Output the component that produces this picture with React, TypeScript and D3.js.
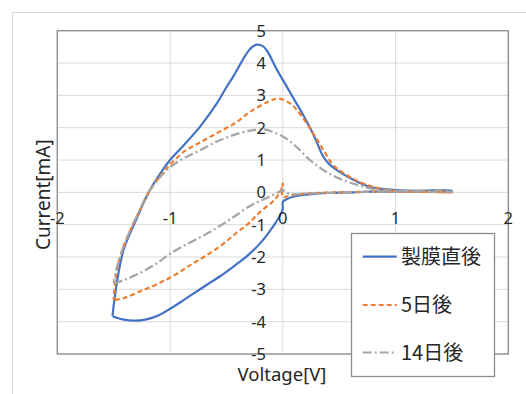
import React from "react";
import * as d3 from "d3";

const xTicks = [-2, -1, 0, 1, 2];
const yTicks = [-5, -4, -3, -2, -1, 0, 1, 2, 3, 4, 5];

const seriesNames = ["製膜直後", "5日後", "14日後"];

const blueV = [-1.51, -1.42, -1.31, -1.2, -1.1, -1.0, -0.9, -0.8, -0.7, -0.55, -0.41, -0.3, -0.2, -0.12, -0.06, -0.01, 0.0, 0.0, 0.03, 0.1, 0.24, 0.4, 0.6, 0.8, 1.1, 1.5, 1.5, 1.2, 1.0, 0.9, 0.77, 0.63, 0.48, 0.41, 0.36, 0.27, 0.18, 0.12, 0.035, -0.05, -0.14, -0.18, -0.23, -0.27, -0.32, -0.38, -0.44, -0.5, -0.585, -0.73, -0.88, -1.0, -1.06, -1.13, -1.19, -1.32, -1.41, -1.46, -1.5, -1.51];
const blueI = [-3.83, -3.93, -3.97, -3.92, -3.8, -3.6, -3.38, -3.15, -2.92, -2.58, -2.22, -1.92, -1.57, -1.22, -0.92, -0.62, -0.5, -0.3, -0.22, -0.13, -0.06, -0.02, 0.0, 0.02, 0.03, 0.03, 0.05, 0.05, 0.07, 0.1, 0.17, 0.38, 0.69, 0.88, 1.1, 1.8, 2.4, 2.76, 3.27, 3.78, 4.38, 4.53, 4.57, 4.5, 4.3, 3.95, 3.58, 3.25, 2.75, 2.05, 1.45, 1.0, 0.72, 0.35, 0.0, -1.0, -1.75, -2.55, -3.5, -3.83];

const orangeV = [-1.49, -1.41, -1.27, -1.12, -0.97, -0.82, -0.7, -0.55, -0.41, -0.3, -0.2, -0.1, -0.06, -0.01, 0.0, 0.0, 0.065, 0.24, 0.48, 0.8, 1.1, 1.5, 1.5, 1.2, 1.0, 0.86, 0.71, 0.57, 0.45, 0.36, 0.27, 0.15, 0.065, -0.04, -0.13, -0.29, -0.42, -0.585, -0.73, -0.88, -1.0, -1.06, -1.13, -1.19, -1.26, -1.33, -1.42, -1.47, -1.49, -1.5];
const orangeI = [-3.33, -3.27, -3.07, -2.85, -2.58, -2.25, -2.0, -1.65, -1.25, -0.95, -0.6, -0.32, -0.18, 0.12, 0.28, -0.14, -0.1, -0.03, 0.0, 0.02, 0.02, 0.0, 0.0, 0.02, 0.04, 0.12, 0.28, 0.53, 0.84, 1.31, 1.82, 2.44, 2.75, 2.9, 2.8, 2.49, 2.15, 1.83, 1.55, 1.25, 0.86, 0.62, 0.3, 0.0, -0.5, -1.0, -1.75, -2.4, -2.9, -3.33];

const grayV = [-1.5, -1.4, -1.27, -1.12, -1.0, -0.85, -0.7, -0.55, -0.41, -0.29, -0.2, -0.1, -0.01, 0.0, 0.065, 0.24, 0.5, 0.8, 1.1, 1.5, 1.5, 1.2, 1.0, 0.83, 0.66, 0.48, 0.36, 0.24, 0.12, 0.005, -0.11, -0.17, -0.29, -0.44, -0.585, -0.73, -0.88, -1.0, -1.06, -1.13, -1.19, -1.33, -1.42, -1.47, -1.5];
const grayI = [-2.82, -2.7, -2.5, -2.2, -1.9, -1.6, -1.33, -1.02, -0.7, -0.42, -0.27, -0.1, 0.05, 0.07, -0.05, -0.03, -0.01, 0.02, 0.03, 0.03, 0.05, 0.05, 0.05, 0.09, 0.23, 0.46, 0.69, 1.0, 1.41, 1.72, 1.9, 1.95, 1.91, 1.77, 1.57, 1.31, 1.05, 0.78, 0.58, 0.29, 0.0, -1.0, -1.75, -2.3, -2.82];

const seriesV = [blueV, orangeV, grayV];
const seriesI = [blueI, orangeI, grayI];
const colors = ["#4472C4", "#ED7D31", "#A5A5A5"];
const dashes = ["none", "5,3", "9,3,2,3"];

const x = d3.scaleLinear().domain([-2, 2]).range([57.3, 508.3]);
const y = d3.scaleLinear().domain([-5, 5]).range([354, 30.7]);

const line = d3
  .line<[number, number]>()
  .x((d) => x(d[0]))
  .y((d) => y(d[1]))
  .curve(d3.curveCatmullRom.alpha(0.5));

const tickFont = "'Noto Sans', 'Liberation Sans', sans-serif";
const cjkFont = "'Noto Sans CJK JP', 'Noto Sans', sans-serif";

export default function App() {
  const legendYs = [256.7, 305, 352.5];
  return (
    <svg
      width={526}
      height={394}
      style={{ position: "absolute", left: 0, top: 0, background: "#fff" }}
    >
      <rect x={0} y={0} width={526} height={394} fill="#fff" />
      <rect x={12.5} y={12.5} width={600} height={500} fill="none" stroke="#D9D9D9" strokeWidth={1} />
      {yTicks.map((t) => (
        <line key={"gy" + t} x1={x(-2)} x2={x(2)} y1={y(t)} y2={y(t)} stroke="#D9D9D9" strokeWidth={1} />
      ))}
      {xTicks.map((t) => (
        <line key={"gx" + t} x1={x(t)} x2={x(t)} y1={y(5)} y2={y(-5)} stroke="#D9D9D9" strokeWidth={1} />
      ))}
      <rect x={x(-2)} y={y(5)} width={x(2) - x(-2)} height={y(-5) - y(5)} fill="none" stroke="#8C8C8C" strokeWidth={1.3} />
      {seriesV.map((vs, k) => {
        const pts: [number, number][] = vs.map((v, i) => [v, seriesI[k][i]]);
        return (
          <path
            key={"s" + k}
            d={line(pts) || ""}
            fill="none"
            stroke={colors[k]}
            strokeWidth={2.2}
            strokeDasharray={dashes[k]}
            strokeLinejoin="round"
          />
        );
      })}
      {yTicks.map((t) => (
        <text key={"ty" + t} x={266} y={y(t)} dy="0.36em" textAnchor="end" fontFamily={tickFont} fontSize={16.5} fill="#262626">
          {t}
        </text>
      ))}
      {xTicks.map((t) => (
        <text key={"tx" + t} x={x(t)} y={218} dy="0.36em" textAnchor="middle" fontFamily={tickFont} fontSize={16.5} fill="#262626">
          {t}
        </text>
      ))}
      <text x={282} y={374} dy="0.36em" textAnchor="middle" fontFamily={tickFont} fontSize={18.5} fill="#262626">
        Voltage[V]
      </text>
      <text
        transform={`translate(43.6,194.7) rotate(-90)`}
        dy="0.36em"
        textAnchor="middle"
        fontFamily={tickFont}
        fontSize={19}
        fill="#262626"
      >
        Current[mA]
      </text>
      <rect x={351.5} y={233.5} width={143} height={143} fill="#fff" stroke="#8C8C8C" strokeWidth={1.3} />
      {seriesNames.map((n, k) => (
        <g key={"lg" + k}>
          <line x1={362.7} x2={396.7} y1={legendYs[k]} y2={legendYs[k]} stroke={colors[k]} strokeWidth={2.2} strokeDasharray={dashes[k]} />
          <text x={401} y={legendYs[k]} dy="0.36em" fontFamily={cjkFont} fontSize={20} fill="#262626">
            {n}
          </text>
        </g>
      ))}
    </svg>
  );
}
